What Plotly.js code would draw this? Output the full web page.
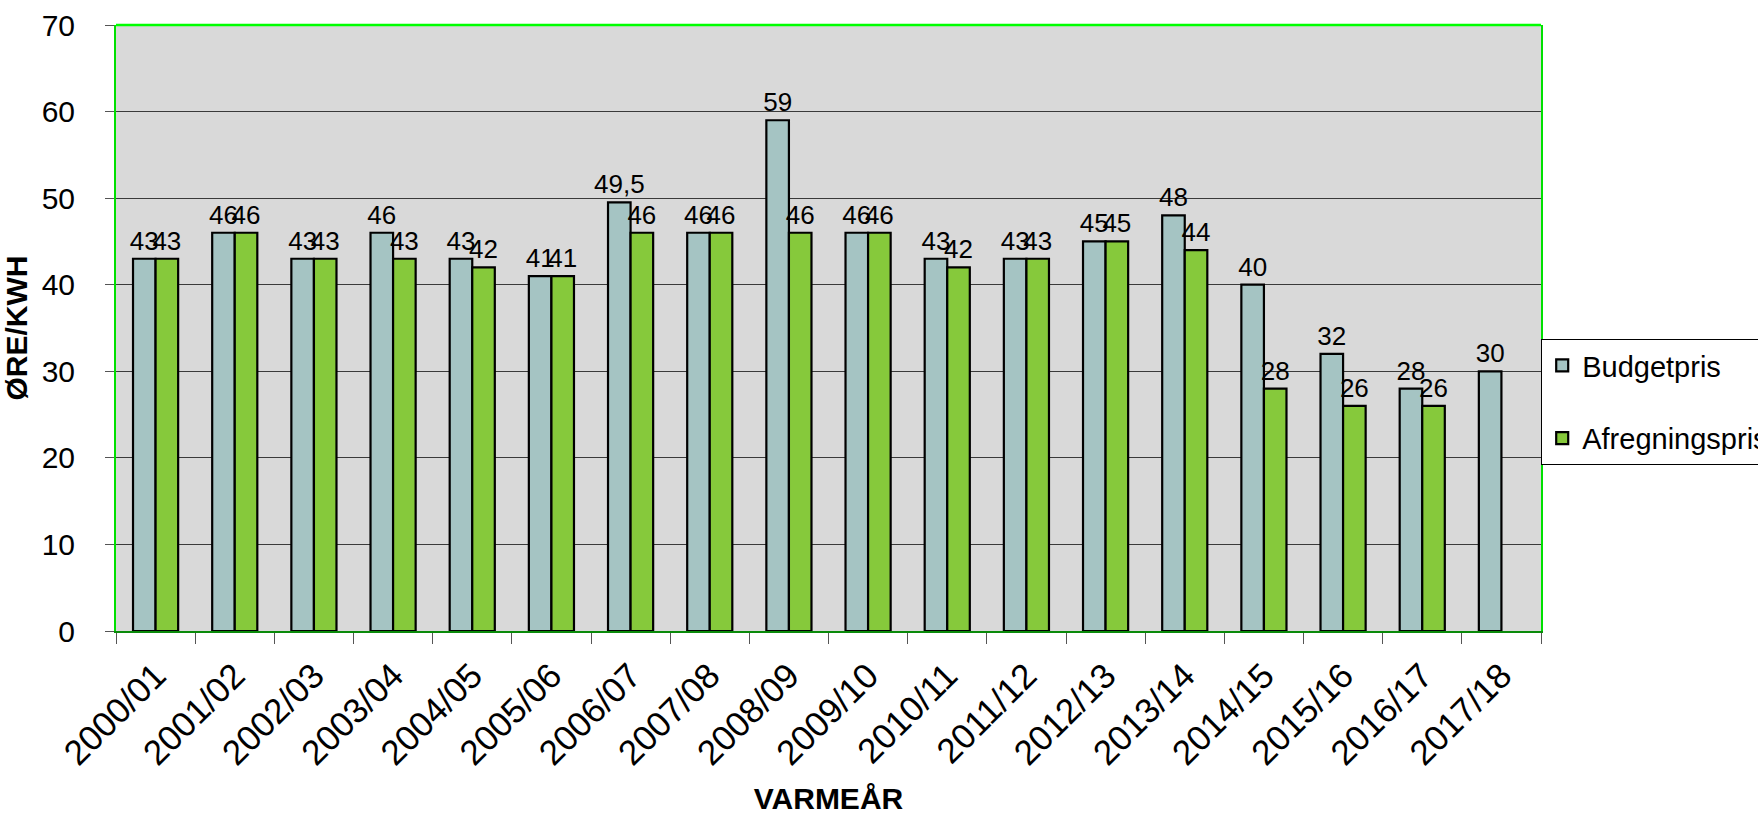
<!DOCTYPE html>
<html>
<head>
<meta charset="utf-8">
<script src="https://cdn.plot.ly/plotly-3.0.1.min.js"></script>
<style>
html,body{margin:0;padding:0;background:#fff;}
#chart{width:1758px;height:815px;}
</style>
</head>
<body>
<div id="chart"></div>
<script>
const categories = ["2000/01","2001/02","2002/03","2003/04","2004/05","2005/06","2006/07","2007/08","2008/09","2009/10","2010/11","2011/12","2012/13","2013/14","2014/15","2015/16","2016/17","2017/18"];
const budgetpris = [43, 46, 43, 46, 43, 41, 49.5, 46, 59, 46, 43, 43, 45, 48, 40, 32, 28, 30];
const afregningspris = [43, 46, 43, 43, 42, 41, 46, 46, 46, 46, 42, 43, 45, 44, 28, 26, 26, null];
const yTicks = [0, 10, 20, 30, 40, 50, 60, 70];

const FONT = "Liberation Sans, Arial, sans-serif";
const fmt = v => (v === null ? "" : String(v).replace(".", ","));
const NB = "\u00A0";

const traces = [
  {
    type: "bar", name: "Budgetpris", x: categories, y: budgetpris,
    text: budgetpris.map(fmt), textposition: "outside", constraintext: "none", cliponaxis: false,
    textfont: {family: FONT, size: 26, color: "#000"},
    marker: {color: "#A5C4C3", line: {color: "#000", width: 2.2}},
    legendgroup: "a", hoverinfo: "x+y"
  },
  {
    type: "bar", name: "Afregningspris", x: categories, y: afregningspris,
    text: afregningspris.map(fmt), textposition: "outside", constraintext: "none", cliponaxis: false,
    textfont: {family: FONT, size: 26, color: "#000"},
    marker: {color: "#86C93B", line: {color: "#000", width: 2.2}},
    legendgroup: "b", hoverinfo: "x+y"
  }
];

const layout = {
  width: 1758, height: 815,
  paper_bgcolor: "#FFFFFF", plot_bgcolor: "#D9D9D9",
  font: {family: FONT, color: "#000"},
  margin: {l: 116, r: 217, t: 25, b: 184, autoexpand: false},
  barmode: "group", bargap: 0.43, bargroupgap: 0,
  showlegend: true,
  legend: {
    x: 1.0, xanchor: "left", y: 0.482, yanchor: "top",
    bgcolor: "#FFFFFF", bordercolor: "#000", borderwidth: 1.2,
    font: {family: FONT, size: 29, color: "#000"},
    traceorder: "grouped", tracegroupgap: 32, itemwidth: 30
  },
  xaxis: {
    type: "category", tickangle: -45, tickson: "boundaries",
    ticks: "outside", ticklen: 11, tickcolor: "#555", tickwidth: 1,
    tickfont: {family: FONT, size: 35, color: "#000"},
    ticklabelstandoff: 8,
    showline: true, linecolor: "#0A8A0A", linewidth: 2,
    showgrid: false, automargin: false,
    title: {text: NB + NB + NB + "VARMEÅR", font: {family: FONT, size: 30, color: "#000", weight: "bold"}, standoff: 18}
  },
  yaxis: {
    range: [0, 70], tickvals: yTicks, ticktext: yTicks.map(String),
    ticks: "outside", ticklen: 9, tickcolor: "#555", tickwidth: 1,
    tickfont: {family: FONT, size: 30, color: "#000"},
    ticklabelstandoff: 24,
    showline: true, linecolor: "#00E000", linewidth: 2, mirror: true,
    showgrid: true, gridcolor: "#3A3A3A", gridwidth: 1.2,
    zeroline: false, automargin: false,
    title: {text: "ØRE/KWH" + NB + NB + NB + NB + NB + NB, font: {family: FONT, size: 30, color: "#000", weight: "bold"}, standoff: 10}
  },
  shapes: [
    {type: "line", xref: "paper", yref: "paper", x0: 0, x1: 1, y0: 1, y1: 1, line: {color: "#00FF00", width: 2.5}}
  ]
};

Plotly.newPlot("chart", traces, layout, {displayModeBar: false, staticPlot: true});
</script>
</body>
</html>
